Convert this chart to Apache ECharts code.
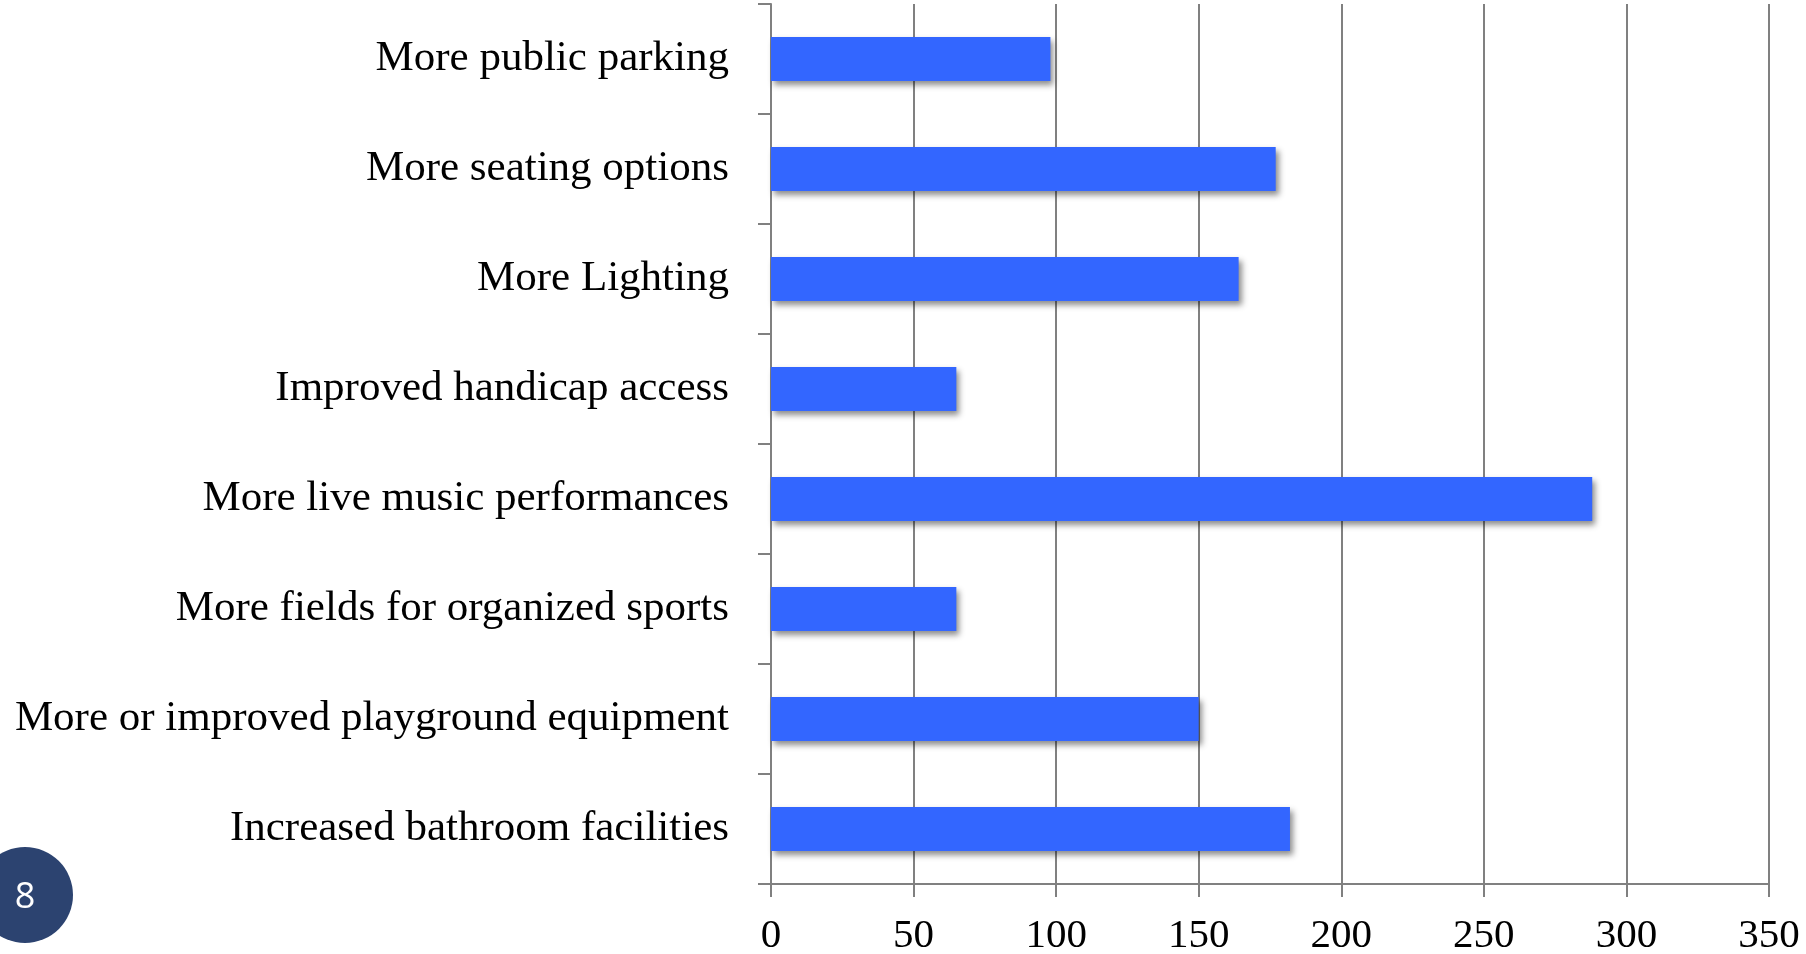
<!DOCTYPE html>
<html>
<head>
<meta charset="utf-8">
<script src="https://cdn.jsdelivr.net/npm/echarts@6/dist/echarts.min.js"></script>
<style>
  html, body { margin: 0; padding: 0; background: #fff; }
  #main { width: 1806px; height: 954px; }
</style>
</head>
<body>
<div id="main"></div>
<script>
// categories top to bottom
var categories = [
  'More public parking',
  'More seating options',
  'More Lighting',
  'Improved handicap access',
  'More live music performances',
  'More fields for organized sports',
  'More or improved playground equipment',
  'Increased bathroom facilities'
];
var counts = [98, 177, 164, 65, 288, 65, 150, 182];
var pageNumber = '8';

var serif = '"Liberation Serif", "DejaVu Serif", serif';
var axisGray = '#808080';

var chart = echarts.init(document.getElementById('main'));
chart.setOption({
  animation: false,
  grid: { left: 771, top: 4, right: 37, bottom: 70, containLabel: false, outerBoundsMode: 'none' },
  xAxis: {
    type: 'value',
    min: 0,
    max: 350,
    interval: 50,
    axisLine: { show: true, lineStyle: { color: axisGray, width: 2 } },
    axisTick: { show: true, length: 13, lineStyle: { color: axisGray, width: 2 } },
    splitLine: { show: true, lineStyle: { color: axisGray, width: 2 } },
    axisLabel: { color: '#000', fontFamily: serif, fontSize: 41, margin: 32 }
  },
  yAxis: {
    type: 'category',
    data: categories,
    inverse: true,
    axisLine: { show: true, lineStyle: { color: axisGray, width: 2 } },
    axisTick: { show: true, length: 13, lineStyle: { color: axisGray, width: 2 } },
    axisLabel: { color: '#000', fontFamily: serif, fontSize: 43, margin: 42 }
  },
  series: [{
    type: 'bar',
    data: counts,
    barCategoryGap: '60%',
    itemStyle: {
      color: '#3366ff',
      shadowColor: 'rgba(0,0,0,0.45)',
      shadowBlur: 6,
      shadowOffsetX: 3,
      shadowOffsetY: 4
    }
  }],
  graphic: [
    { type: 'circle', shape: { cx: 25, cy: 895, r: 48 }, style: { fill: '#2c4370' } },
    { type: 'text', x: 25, y: 898, style: { text: pageNumber, fill: '#fff', font: '36px "Open Sans", sans-serif', align: 'center', verticalAlign: 'middle' } }
  ]
});
</script>
</body>
</html>
